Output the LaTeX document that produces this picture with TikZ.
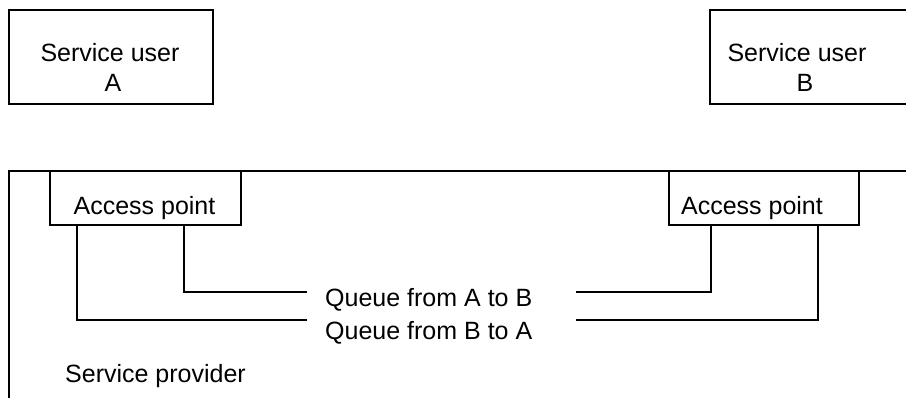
\documentclass[tikz,border=0pt]{standalone}
\usepackage{fontspec}
\setmainfont{Liberation Sans}
\begin{document}
\begin{tikzpicture}[x=1pt,y=-1pt,
  line/.style={draw=black,line width=1.6pt},
  lbl/.style={font=\fontsize{25}{29}\selectfont,inner sep=0pt,anchor=base},
  box/.style={draw=black,line width=1.6pt,inner sep=0pt}]
\useasboundingbox (0,0) rectangle (906,398);
\clip (0,0) rectangle (906,398);
% service users
\node[box,minimum width=204pt,minimum height=94pt] (userA) at (111,57) {};
\node[lbl] (userAt1) at (110,62) {Service user};
\node[lbl] (userAt2) at (113,92) {A};
\node[box,minimum width=204pt,minimum height=94pt] (userB) at (812,57) {};
\node[lbl] (userBt1) at (797,62) {Service user};
\node[lbl] (userBt2) at (805,92) {B};
% service provider
\coordinate (spBL) at (9,420);
\coordinate (spTL) at (9,171);
\coordinate (spTR) at (930,171);
\draw[line] (spBL) -- (spTL) -- (spTR);
\node[lbl,anchor=base west] (spt) at (65,382) {Service provider};
% access points
\node[box,minimum width=191pt,minimum height=54pt] (apL) at (145.5,198) {};
\node[lbl] (apLt) at (144.5,215) {Access point};
\node[box,minimum width=190pt,minimum height=54pt] (apR) at (764,198) {};
\node[lbl] (apRt) at (752,215) {Access point};
% queue labels
\node[lbl,anchor=base west] (qAB) at (325,307) {Queue from A to B};
\node[lbl,anchor=base west] (qBA) at (325,340) {Queue from B to A};
% connectors
\coordinate (a1) at (307,292);
\coordinate (a2) at (576,292);
\coordinate (b1) at (307,320);
\coordinate (b2) at (576,320);
\draw[line] (apL.south west) ++(135,0) coordinate (apLi) -- (apLi |- a1) -- (a1);
\draw[line] (a2) -- (a2 -| 711,0) coordinate (apRi) -- (apRi |- apR.south);
\draw[line] (apL.south west) ++(28,0) coordinate (apLo) -- (apLo |- b1) -- (b1);
\draw[line] (b2) -- (b2 -| 818,0) coordinate (apRo) -- (apRo |- apR.south);
\end{tikzpicture}
\end{document}
